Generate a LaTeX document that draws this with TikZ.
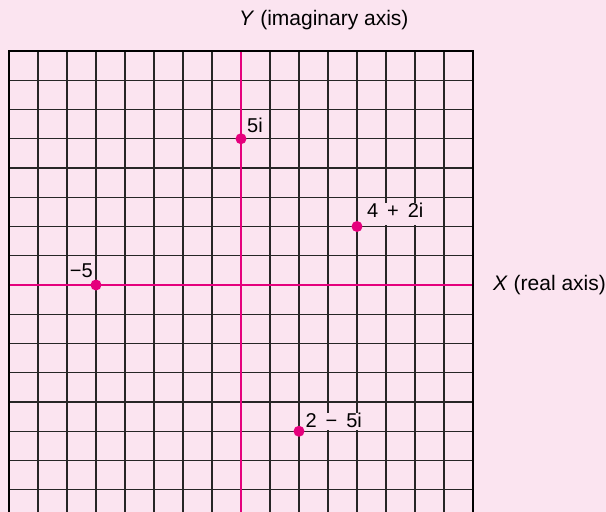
\documentclass[tikz,border=0pt]{standalone}
\usepackage{fontspec}
\setmainfont{Liberation Sans}
\usepackage{xcolor}
\usetikzlibrary{positioning}
\definecolor{planebg}{HTML}{FBE4F0}
\definecolor{axiscolor}{HTML}{E5007D}

\begin{document}
\begin{tikzpicture}[
    x=29pt, y=29.25pt,
    gridline/.style={draw=black!85, line width=1.2pt},
    frame/.style={draw=black, line width=2.4pt},
    axis/.style={draw=axiscolor, line width=2.4pt},
    dot/.style={circle, fill=axiscolor, inner sep=0pt, minimum size=11pt},
    ptlabel/.style={fill=planebg, inner sep=0pt,
                    font=\fontsize{20}{20}\selectfont},
    axislabel/.style={inner sep=0pt, anchor=west,
                      font=\fontsize{21}{21}\selectfont}
]
\fill[planebg] (-241pt,-227pt) rectangle (365pt,285pt);
\useasboundingbox (-241pt,-227pt) rectangle (365pt,285pt);

% grid
\foreach \i in {-7,...,7}
    \draw[gridline] (\i,-8) -- (\i,8);
\foreach \j in {-7,...,7}
    \draw[gridline] (-8,\j) -- (8,\j);

% axes
\coordinate (xmin) at (-8,0);
\coordinate (xmax) at (8,0);
\coordinate (ymin) at (0,-8);
\coordinate (ymax) at (0,8);
\draw[axis] (xmin) -- (xmax);
\draw[axis] (ymin) -- (ymax);

% frame (runs off the bottom)
\draw[frame] (-8,-8) -- (-8,8) -- (8,8) -- (8,-8);

\node[axislabel] (ytitle) at (-0.07,9.06) {\textit{Y} (imaginary axis)};
\node[axislabel] (xtitle) at (8.69,0) {\textit{X} (real axis)};

% points
\coordinate (zfive) at (0,5);
\coordinate (zminus) at (-5,0);
\coordinate (zfour) at (4,2);
\coordinate (ztwo) at (2,-5);

\node[ptlabel, text depth=4.5pt, above right=1.5pt and 6pt of zfive] (lfive) {5i};
\node[ptlabel, text depth=5.5pt, above left=1.5pt and 3pt of zminus] (lminus) {−5};
\node[ptlabel, text depth=7.5pt, above right=1.5pt and 10pt of zfour] (lfour) {4 \,+\, 2i};
\node[ptlabel, text depth=2.5pt, above right=1.5pt and 6.5pt of ztwo] (ltwo) {2 \,−\, 5i};

\node[dot] (dfive) at (zfive) {};
\node[dot] (dminus) at (zminus) {};
\node[dot] (dfour) at (zfour) {};
\node[dot] (dtwo) at (ztwo) {};
\end{tikzpicture}
\end{document}
